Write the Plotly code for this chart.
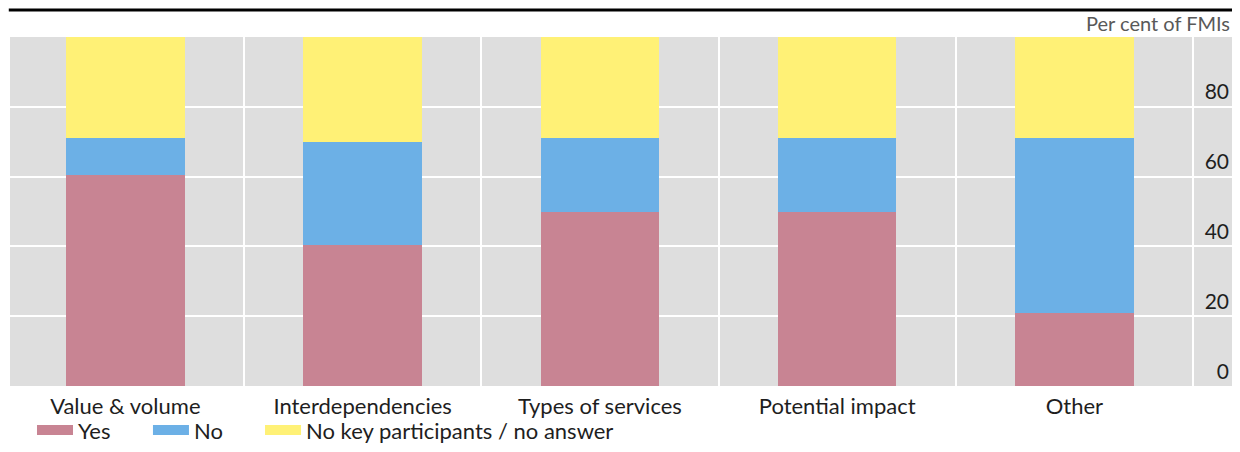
import plotly.graph_objects as go

categories = ["Value & volume", "Interdependencies", "Types of services", "Potential impact", "Other"]
yes_vals = [60.5, 40.5, 50, 50, 21]
no_vals = [10.5, 29.5, 21, 21, 50]
nokey_vals = [29, 30, 29, 29, 29]
y_ticks = [0, 20, 40, 60, 80]

series = [
    ("Yes", yes_vals, "#C88493"),
    ("No", no_vals, "#6CB0E6"),
    ("No key participants / no answer", nokey_vals, "#FFF176"),
]
legend_ids = ["legend", "legend2", "legend3"]
legend_x = [0.018, 0.1129, 0.2046]

xpos = list(range(len(categories)))
FONT = "Lato"
TXT = "#1E1E1E"

fig = go.Figure()
for (name, vals, color), lid in zip(series, legend_ids):
    fig.add_trace(go.Bar(
        x=xpos, y=vals, name=name, marker=dict(color=color, line=dict(width=0)),
        width=0.5, showlegend=False,
    ))
    # legend proxy (wide rectangular swatch)
    fig.add_trace(go.Scatter(
        x=[None], y=[None], mode="lines", name=name, legend=lid,
        line=dict(color=color, width=12),
    ))

legend_common = dict(orientation="h", xanchor="left", y=-0.127, yanchor="middle",
                     font=dict(size=22, color=TXT), itemwidth=36,
                     bgcolor="rgba(0,0,0,0)")
leg_layout = {lid: dict(x=lx, **legend_common) for lid, lx in zip(legend_ids, legend_x)}

fig.update_layout(
    width=1224, height=436,
    margin=dict(l=2, r=0, t=29, b=58, autoexpand=False),
    barmode="stack",
    paper_bgcolor="white",
    plot_bgcolor="#DEDEDE",
    font=dict(family=FONT, size=22, color=TXT),
    showlegend=True,
    xaxis=dict(
        range=[-0.486, 4.664], tickmode="array", tickvals=xpos, ticktext=categories,
        showgrid=False, zeroline=False, showline=False,
        ticks="outside", ticklen=1, tickcolor="rgba(0,0,0,0)",
        tickfont=dict(size=22, color=TXT), automargin=False,
        minor=dict(tickmode="linear", tick0=0.5, dtick=1, showgrid=True,
                   gridcolor="white", gridwidth=2, ticks=""),
    ),
    yaxis=dict(
        range=[0, 100], side="right", tickmode="array", tickvals=y_ticks,
        ticklabelposition="inside top", showgrid=True, gridcolor="white", gridwidth=2,
        zeroline=False, showline=False, ticks="", automargin=False,
        tickfont=dict(size=21, color=TXT),
    ),
    shapes=[dict(type="line", xref="paper", yref="paper", x0=-0.001, x1=1, y0=1.0774, y1=1.0774,
                 line=dict(color="black", width=3))],
    annotations=[dict(text="Per cent of FMIs", xref="paper", yref="paper", x=1, y=1.0,
                      xanchor="right", yanchor="bottom", showarrow=False,
                      font=dict(size=20, color="#595959"))],
    **leg_layout,
)

fig.write_html("out.html")
